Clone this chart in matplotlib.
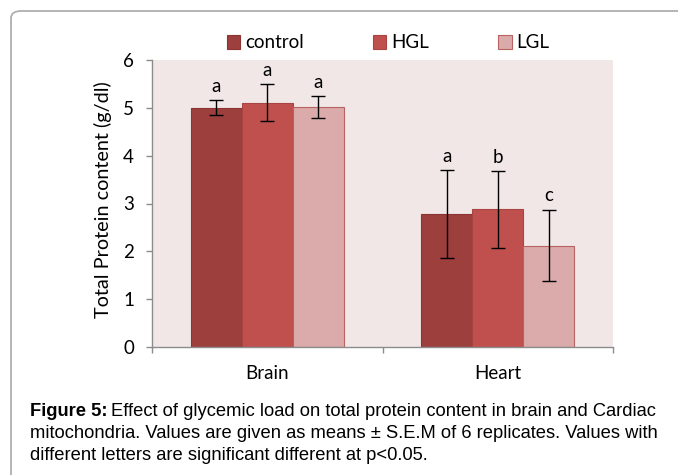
import matplotlib
matplotlib.use("Agg")
import matplotlib.pyplot as plt
import numpy as np
from matplotlib.patches import FancyBboxPatch
from matplotlib.ticker import FixedLocator

categories = ["Brain", "Heart"]
series_names = ["control", "HGL", "LGL"]
control_vals = [5.00, 2.78]
hgl_vals = [5.11, 2.88]
lgl_vals = [5.01, 2.12]
control_err = [0.16, 0.91]
hgl_err = [0.39, 0.80]
lgl_err = [0.23, 0.75]
control_letters = ["a", "a"]
hgl_letters = ["a", "b"]
lgl_letters = ["a", "c"]
yticks = [0, 1, 2, 3, 4, 5, 6]
ylabel = "Total Protein content (g/dl)"
caption_bold = "Figure 5:"

values = [control_vals, hgl_vals, lgl_vals]
errors = [control_err, hgl_err, lgl_err]
letters = [control_letters, hgl_letters, lgl_letters]
fills = ["#9C3F3D", "#C0504D", "#DBABAB"]
edges = ["#8A3533", "#A84442", "#B86262"]

chart_font = ["Lato", "DejaVu Sans"]
W, H = 678, 475
fig = plt.figure(figsize=(W / 100, H / 100), dpi=100)

# outer rounded frame
frame = FancyBboxPatch((11 / W, -0.1), 1.2, (H - 11) / H + 0.1,
                       boxstyle="round,pad=0,rounding_size=0.015",
                       transform=fig.transFigure, facecolor="none",
                       edgecolor="#AFAFAF", linewidth=1.3, clip_on=False)
fig.patches.append(frame)

ax = fig.add_axes([152 / W, 1 - 347 / H, 461 / W, 287 / H])
ax.set_facecolor("#F2E7E7")

x = np.arange(len(categories))
bw = 0.221
offsets = [-bw, 0, bw]
for i in range(3):
    xs = x + offsets[i]
    ax.bar(xs, values[i], width=bw, color=fills[i], edgecolor=edges[i],
           linewidth=0.8, label=series_names[i], zorder=2)
    ax.errorbar(xs, values[i], yerr=errors[i], fmt="none", ecolor="black",
                elinewidth=1.0, capsize=5, capthick=1.0, zorder=3)
    for xi, v, e, l in zip(xs, values[i], errors[i], letters[i]):
        ax.annotate(l, (xi, v + e), xytext=(0, 6), textcoords="offset points",
                    ha="center", va="baseline", fontsize=13.5,
                    family=chart_font, color="black")

ax.set_xlim(-0.5, 1.5)
ax.set_ylim(0, 6)
ax.set_yticks(yticks)
ax.set_yticklabels([str(t) for t in yticks], family=chart_font, fontsize=13.5)
ax.set_xticks(x)
ax.set_xticklabels(categories, family=chart_font, fontsize=13.5)
ax.xaxis.set_minor_locator(FixedLocator([-0.5, 0.5, 1.5]))
ax.tick_params(axis="x", which="major", length=0, pad=13, colors="black")
ax.tick_params(axis="x", which="minor", length=4, color="#8C8C8C", width=1)
ax.tick_params(axis="y", which="major", length=4, color="#8C8C8C", width=1,
               pad=9, labelcolor="black")
for s in ["top", "right"]:
    ax.spines[s].set_visible(False)
for s in ["left", "bottom"]:
    ax.spines[s].set_color("#8C8C8C")
    ax.spines[s].set_linewidth(1)

fig.text(103 / W, 1 - 200 / H, ylabel, rotation=90, ha="center", va="center",
         family=chart_font, fontsize=14.3)

leg = fig.legend(loc="center", bbox_to_anchor=(388 / W, 1 - 43 / H), ncol=3,
                 frameon=False, prop={"family": chart_font, "size": 13.5},
                 handlelength=0.72, handleheight=0.72, handletextpad=0.25,
                 columnspacing=3.7, borderpad=0)

# caption
cap_font = ["Liberation Sans", "DejaVu Sans"]
cap_size = 13.2
lines = ["Effect of glycemic load on total protein content in brain and Cardiac",
         "mitochondria. Values are given as means \u00b1 S.E.M of 6 replicates. Values with",
         "different letters are significant different at p<0.05."]
t0 = fig.text(30 / W, 1 - 412 / H, caption_bold, fontsize=cap_size,
              family=cap_font, weight="bold", va="center", ha="left")
fig.canvas.draw()
bb = t0.get_window_extent()
fig.text((bb.x1 + 4) / W, 1 - 412 / H, lines[0], fontsize=cap_size,
         family=cap_font, va="center", ha="left")
fig.text(30 / W, 1 - 434 / H, lines[1], fontsize=cap_size, family=cap_font,
         va="center", ha="left")
fig.text(30 / W, 1 - 455 / H, lines[2], fontsize=cap_size, family=cap_font,
         va="center", ha="left")

fig.savefig("out.png", dpi=100)
